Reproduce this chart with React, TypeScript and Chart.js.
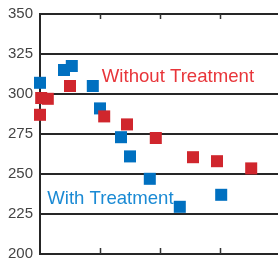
import React, { useEffect, useRef } from "react";
import { Chart, registerables } from "chart.js";

Chart.register(...registerables);

const withoutTreatmentX = [0, 0.02, 0.13, 0.5, 1.07, 1.45, 1.93, 2.55, 2.95, 3.52];
const withoutTreatmentY = [287, 297.5, 297, 305, 286, 281, 272.5, 260.5, 258, 253.5];
const withTreatmentX = [0, 0.4, 0.53, 0.88, 1.0, 1.35, 1.5, 1.83, 2.33, 3.02];
const withTreatmentY = [307, 315, 317.5, 305, 291, 273, 261, 247, 229.5, 237];
const xTickValues = [1, 2, 3];
const yMin = 200;
const yMax = 350;
const yStep = 25;
const labelWithout = "Without Treatment";
const labelWith = "With Treatment";
const labelWithoutPos = [1.03, 311.0];
const labelWithPos = [0.12, 234.2];

const RED = "#d0262d";
const BLUE = "#0070c0";

export default function App() {
  const ref = useRef<HTMLCanvasElement>(null);
  useEffect(() => {
    document.body.style.margin = "0";
    const annot = {
      id: "annot",
      afterDatasetsDraw(chart: any) {
        const { ctx, scales } = chart;
        const xs = scales.x;
        const ys = scales.y;
        ctx.save();
        ctx.strokeStyle = "#333";
        ctx.lineWidth = 1.5;
        const top = ys.getPixelForValue(yMax);
        const bot = ys.getPixelForValue(yMin);
        for (const v of xTickValues) {
          const px = Math.round(xs.getPixelForValue(v)) + 0.5;
          ctx.beginPath();
          ctx.moveTo(px, top);
          ctx.lineTo(px, top + 5);
          ctx.moveTo(px, bot);
          ctx.lineTo(px, bot - 6);
          ctx.stroke();
        }
        ctx.font = "18.6px 'Liberation Sans', Arial, sans-serif";
        ctx.textBaseline = "middle";
        ctx.textAlign = "left";
        ctx.fillStyle = "#e8353a";
        ctx.fillText(labelWithout, xs.getPixelForValue(labelWithoutPos[0]), ys.getPixelForValue(labelWithoutPos[1]));
        ctx.fillStyle = "#1a8ad4";
        ctx.fillText(labelWith, xs.getPixelForValue(labelWithPos[0]), ys.getPixelForValue(labelWithPos[1]));
        ctx.restore();
      },
    };
    const chart = new Chart(ref.current!, {
      type: "scatter",
      data: {
        datasets: [
          {
            label: labelWithout,
            data: withoutTreatmentX.map((x, i) => ({ x, y: withoutTreatmentY[i] })),
            backgroundColor: RED,
            borderWidth: 0,
            pointStyle: "rect",
            pointRadius: 8.5,
            clip: false,
          },
          {
            label: labelWith,
            data: withTreatmentX.map((x, i) => ({ x, y: withTreatmentY[i] })),
            backgroundColor: BLUE,
            borderWidth: 0,
            pointStyle: "rect",
            pointRadius: 8.5,
            clip: false,
          },
        ],
      },
      options: {
        responsive: false,
        animation: false,
        layout: { autoPadding: false, padding: { top: 14, bottom: 7, left: 0, right: 0 } },
        plugins: { legend: { display: false }, tooltip: { enabled: false } },
        scales: {
          x: { type: "linear", min: 0, max: 4, display: false },
          y: {
            min: yMin,
            max: yMax,
            afterFit: (s: any) => {
              s.width = 40;
              s.paddingTop = 0;
              s.paddingBottom = 0;
            },
            ticks: {
              stepSize: yStep,
              padding: 7,
              color: "#444",
              font: { family: "'Liberation Sans', Arial, sans-serif", size: 15 },
            },
            grid: { color: "#262626", lineWidth: 2, drawTicks: false },
            border: { display: true, color: "#262626", width: 2 },
          },
        },
      },
      plugins: [annot],
    });
    return () => chart.destroy();
  }, []);
  return (
    <div style={{ width: 278, height: 261, overflow: "hidden" }}>
      <canvas ref={ref} width={280} height={261} style={{ display: "block" }} />
    </div>
  );
}
